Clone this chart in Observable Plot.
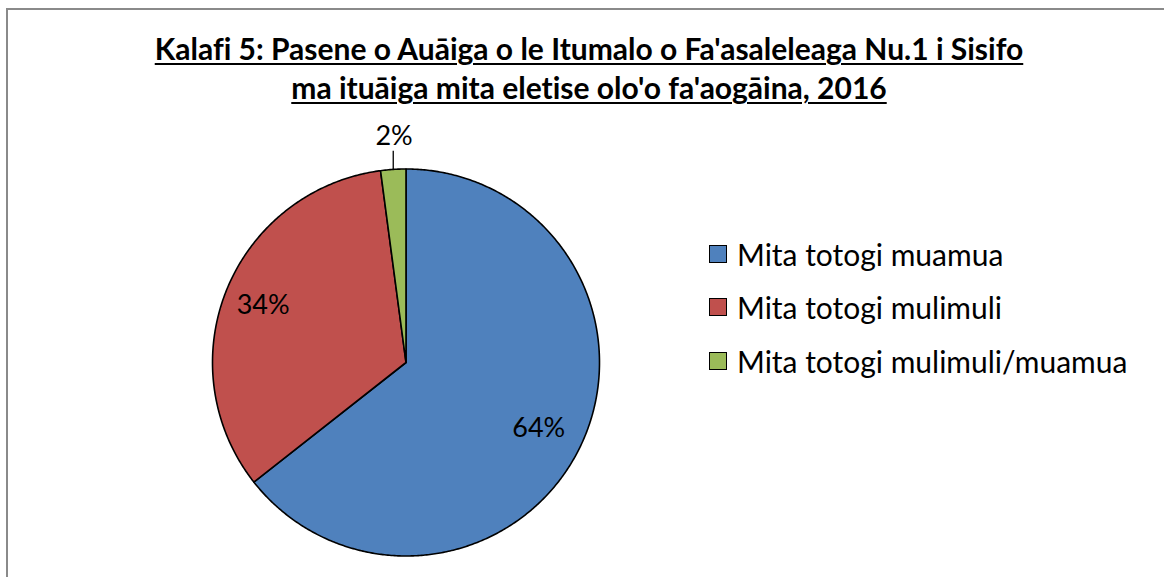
<!DOCTYPE html>
<html>
<head>
<meta charset="utf-8">
<script src="https://cdn.jsdelivr.net/npm/d3@7"></script>
<script src="https://cdn.jsdelivr.net/npm/@observablehq/plot@0.6"></script>
<style>
  html, body { margin: 0; padding: 0; width: 1164px; height: 577px; overflow: hidden; background: #fff; }
  #frame { position: absolute; left: 6px; top: 8px; width: 1300px; height: 700px; border-left: 2px solid #8a8a8a; border-top: 2px solid #8a8a8a; }
  #title { position: absolute; left: 0; top: 29px; width: 1178px; text-align: center; font-family: Lato, "Open Sans", sans-serif; font-weight: bold; font-size: 30px; line-height: 39px; color: #000; font-variant-ligatures: none; }
  #title span { text-decoration: underline; text-decoration-thickness: 2px; text-underline-offset: 3px; }
  #chart { position: absolute; left: 0; top: 115px; }
  #legend { position: absolute; left: 709px; top: 0; font-family: Lato, "Open Sans", sans-serif; font-size: 30px; color: #000; font-variant-ligatures: none; }
  .row { position: absolute; left: 0; display: flex; align-items: center; height: 36px; white-space: nowrap; }
  .sw { width: 16px; height: 16px; border: 1px solid #000; margin-right: 10px; flex: none; }
  svg text { font-variant-ligatures: none; }
</style>
</head>
<body>
<div id="frame"></div>
<div id="title"><span>Kalafi 5: Pasene o Auāiga o le Itumalo o Fa'asaleleaga Nu.1 i Sisifo</span><br><span>ma ituāiga mita eletise olo'o fa'aogāina, 2016</span></div>
<div id="chart"></div>
<div id="legend"></div>
<script>
// ---- data ----
const categories = ["Mita totogi muamua", "Mita totogi mulimuli", "Mita totogi mulimuli/muamua"];
const values = [64.4, 33.5, 2.1];
const labels = ["64%", "34%", "2%"];
const colors = ["#4F81BD", "#C0504D", "#9BBB59"];

const data = categories.map((name, i) => ({name, value: values[i], label: labels[i]}));
const arcs = d3.pie().sort(null).value(d => d.value)(data);

// polygon vertices for each slice on a unit circle (angle 0 at top, clockwise)
const pts = [];
for (const a of arcs) {
  pts.push({name: a.data.name, x: 0, y: 0});
  const n = Math.max(2, Math.ceil((a.endAngle - a.startAngle) / (Math.PI / 360)));
  for (let k = 0; k <= n; k++) {
    const t = a.startAngle + (a.endAngle - a.startAngle) * k / n;
    pts.push({name: a.data.name, x: Math.sin(t), y: Math.cos(t)});
  }
}

// label placement
const labelData = arcs.map(a => {
  const m = (a.startAngle + a.endAngle) / 2;
  const small = (a.endAngle - a.startAngle) < 0.3;
  const r = small ? 1.17 : 0.78;
  return {label: a.data.label, x: r * Math.sin(m), y: r * Math.cos(m), small, m};
});
const leaders = labelData.filter(d => d.small).map(d => ({
  x1: Math.sin(d.m), y1: Math.cos(d.m), x2: Math.sin(d.m), y2: 1.097 * Math.cos(d.m)
}));

const R = 193.5, cx = 405.5, cy = 247, W = 1164, H = 462;
const plot = Plot.plot({
  width: W, height: H,
  marginLeft: cx - R, marginRight: W - (cx + R),
  marginTop: cy - R, marginBottom: H - (cy + R),
  x: {domain: [-1, 1], axis: null},
  y: {domain: [-1, 1], axis: null},
  color: {domain: categories, range: colors},
  style: {fontFamily: "Lato, 'Open Sans', sans-serif", background: "transparent", overflow: "visible"},
  marks: [
    Plot.line(pts, {x: "x", y: "y", z: "name", fill: "name", stroke: "#000", strokeWidth: 1.6, curve: "linear-closed", strokeLinejoin: "round"}),
    Plot.link(leaders, {x1: "x1", y1: "y1", x2: "x2", y2: "y2", stroke: "#000", strokeWidth: 1.3}),
    Plot.text(labelData.filter(d => !d.small), {x: "x", y: "y", text: "label", fontSize: 27, fill: "#000", textAnchor: "middle", lineAnchor: "middle", dx: -3}),
    Plot.text(labelData.filter(d => d.small), {x: "x", y: "y", text: "label", fontSize: 27, fill: "#000", textAnchor: "middle", lineAnchor: "middle", dx: 3})
  ]
});
document.getElementById("chart").appendChild(plot);

// legend
const legend = document.getElementById("legend");
const rowCenters = [254, 307, 361];
categories.forEach((c, i) => {
  const row = document.createElement("div");
  row.className = "row";
  row.style.top = (rowCenters[i] - 18) + "px";
  const sw = document.createElement("div");
  sw.className = "sw";
  sw.style.background = colors[i];
  const t = document.createElement("span");
  t.textContent = c;
  row.appendChild(sw);
  row.appendChild(t);
  legend.appendChild(row);
});
</script>
</body>
</html>
